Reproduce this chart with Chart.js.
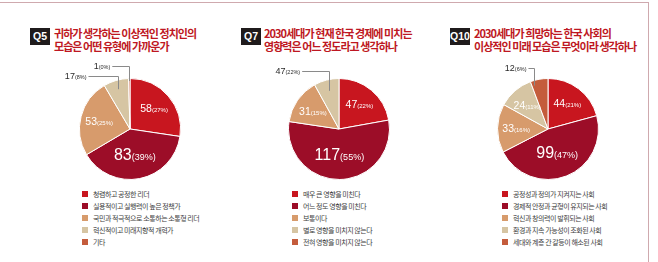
<!DOCTYPE html>
<html>
<head>
<meta charset="utf-8">
<script src="https://cdn.jsdelivr.net/npm/chart.js@4"></script>
<style>
  body { margin: 0; background: #fff; width: 658px; height: 262px; overflow: hidden; position: relative; font-family: 'Noto Sans CJK KR', sans-serif; }
  .frame { position: absolute; left: 0; top: 2px; width: 648px; height: 270px; border-top: 1.5px solid #cfa9ae; border-right: 1.5px solid #cfa9ae; }
  .badge { position: absolute; width: 20px; height: 17px; background: #1f1b1c; color: #fff; font: bold 10.5px 'Liberation Sans Narrow', 'Liberation Sans', sans-serif; line-height: 17px; text-align: center; }
  .title { position: absolute; color: #be1722; font-weight: bold; font-size: 11px; line-height: 12.5px; letter-spacing: -0.95px; white-space: nowrap; }
  canvas { position: absolute; }
  ul.legend { position: absolute; margin: 0; padding: 0; list-style: none; }
  ul.legend li { height: 12px; line-height: 12px; font-size: 7px; color: #3e3e3e; letter-spacing: -0.45px; white-space: nowrap; display: flex; align-items: center; }
  ul.legend li span { display: inline-block; width: 6px; height: 6px; margin-right: 5px; flex: none; }
</style>
</head>
<body>
<div class="frame"></div>

<div class="badge" style="left:30px;top:28px;">Q5</div>
<div class="title" style="left:54px;top:27px;">귀하가 생각하는 이상적인 정치인의<br>모습은 어떤 유형에 가까운가</div>
<canvas id="c5" width="200" height="130" style="left:30px;top:55px;"></canvas>
<ul class="legend" id="l5" style="left:82px;top:188px;"></ul>

<div class="badge" style="left:241px;top:28px;">Q7</div>
<div class="title" style="left:264px;top:27px;">2030세대가 현재 한국 경제에 미치는<br>영향력은 어느 정도라고 생각하나</div>
<canvas id="c7" width="200" height="130" style="left:239px;top:55px;"></canvas>
<ul class="legend" id="l7" style="left:292px;top:188px;"></ul>

<div class="badge" style="left:450px;top:28px;">Q10</div>
<div class="title" style="left:474px;top:27px;">2030세대가 희망하는 한국 사회의<br>이상적인 미래 모습은 무엇이라 생각하나</div>
<canvas id="c10" width="200" height="130" style="left:448px;top:55px;"></canvas>
<ul class="legend" id="l10" style="left:502px;top:188px;"></ul>

<script>
const colors = ['#c8161f', '#9c0d28', '#d79b6c', '#d6c5a3', '#c45c3c'];

const q5Labels = ['청렴하고 공정한 리더', '실용적이고 실행력이 높은 정책가', '국민과 적극적으로 소통하는 소통형 리더', '혁신적이고 미래지향적 개혁가', '기타'];
const q5Values = [58, 83, 53, 17, 1];

const q7Labels = ['매우 큰 영향을 미친다', '어느 정도 영향을 미친다', '보통이다', '별로 영향을 미치지 않는다', '전혀 영향을 미치지 않는다'];
const q7Values = [47, 117, 31, 17, 0];
// printed label for the 4th slice as it appears in the source
const q7Printed = [null, null, null, '47(22%)', null];

const q10Labels = ['공정성과 정의가 지켜지는 사회', '경제적 안정과 균형이 유지되는 사회', '혁신과 창의력이 발휘되는 사회', '환경과 지속 가능성이 조화된 사회', '세대와 계층 간 갈등이 해소된 사회'];
const q10Values = [44, 99, 33, 24, 12];

const numFont = "'Liberation Sans Narrow', 'Liberation Sans', sans-serif";

function drawValue(ctx, x, y, num, pct, big, small, color, align) {
    ctx.save();
    ctx.fillStyle = color;
    ctx.textBaseline = 'alphabetic';
    ctx.font = big + 'px ' + numFont;
    const w1 = ctx.measureText(num).width;
    ctx.font = small + 'px ' + numFont;
    const w2 = ctx.measureText(pct).width;
    let left = align === 'right' ? x - w1 - w2 : x - (w1 + w2) / 2;
    const base = y + big * 0.36;
    ctx.font = big + 'px ' + numFont;
    ctx.fillText(num, left, base);
    ctx.font = small + 'px ' + numFont;
    ctx.fillText(pct, left + w1, base);
    ctx.restore();
}

const sliceLabels = {
    id: 'sliceLabels',
    afterDatasetsDraw(chart, args, opts) {
        const ctx = chart.ctx;
        const meta = chart.getDatasetMeta(0);
        const values = chart.data.datasets[0].data;
        const total = values.reduce((a, b) => a + b, 0);
        const printed = opts.printed || [];
        meta.data.forEach((arc, i) => {
            const v = values[i];
            if (!v) return;
            const pct = Math.round(v / total * 100);
            let num = String(v), pctText = '(' + pct + '%)';
            if (printed[i]) {
                const m = printed[i].match(/^(\d+)(\(.*\))$/);
                num = m[1]; pctText = m[2];
            }
            const cx = arc.x, cy = arc.y, r = arc.outerRadius;
            const callout = (opts.callouts || {})[i];
            if (callout) {
                const f = callout.at !== undefined ? callout.at : 0.5;
                const a = arc.startAngle + (arc.endAngle - arc.startAngle) * f;
                const px = cx + Math.cos(a) * r * callout.depth;
                const py = cy + Math.sin(a) * r * callout.depth;
                const ly = cy - callout.rise;
                const lx = px - callout.run;
                ctx.save();
                ctx.strokeStyle = '#8a8a8a';
                ctx.lineWidth = 1;
                ctx.beginPath();
                ctx.moveTo(Math.round(px) + 0.5, py);
                ctx.lineTo(Math.round(px) + 0.5, Math.round(ly) + 0.5);
                ctx.lineTo(lx, Math.round(ly) + 0.5);
                ctx.stroke();
                ctx.restore();
                drawValue(ctx, lx - 2, ly, num, pctText, 9, 5.5, '#2b2b2b', 'right');
            } else {
                const big = v > 80;
                const a = (arc.startAngle + arc.endAngle) / 2;
                const k = big ? 0.5 : 0.63;
                const x = cx + Math.cos(a) * r * k;
                const y = cy + Math.sin(a) * r * k;
                drawValue(ctx, x, y, num, pctText, big ? 16 : 10.5, big ? 9 : 6, '#fff', 'center');
            }
        });
    }
};

function makePie(id, legendId, labels, values, labelOpts) {
    const chart = new Chart(document.getElementById(id), {
        type: 'pie',
        data: {
            labels: labels,
            datasets: [{
                data: values,
                backgroundColor: colors,
                borderColor: '#fff',
                borderWidth: 1
            }]
        },
        options: {
            responsive: false,
            animation: false,
            layout: { padding: { left: 49, right: 49, top: 23, bottom: 5 } },
            plugins: {
                legend: { display: false },
                tooltip: { enabled: false },
                sliceLabels: labelOpts
            }
        },
        plugins: [sliceLabels]
    });
    const ul = document.getElementById(legendId);
    labels.forEach((label, i) => {
        const li = document.createElement('li');
        li.innerHTML = `<span style="background:${colors[i]}"></span>${label}`;
        ul.appendChild(li);
    });
    return chart;
}

makePie('c5', 'l5', q5Labels, q5Values, {
    callouts: {
        3: { depth: 0.82, rise: 53, run: 30 },
        4: { depth: 0.95, rise: 63, run: 17 }
    }
});
makePie('c7', 'l7', q7Labels, q7Values, {
    printed: q7Printed,
    callouts: {
        3: { depth: 0.78, rise: 58, run: 27 }
    }
});
makePie('c10', 'l10', q10Labels, q10Values, {
    callouts: {
        4: { depth: 0.9, rise: 61, run: 6, at: 0.15 }
    }
});
</script>
</body>
</html>
